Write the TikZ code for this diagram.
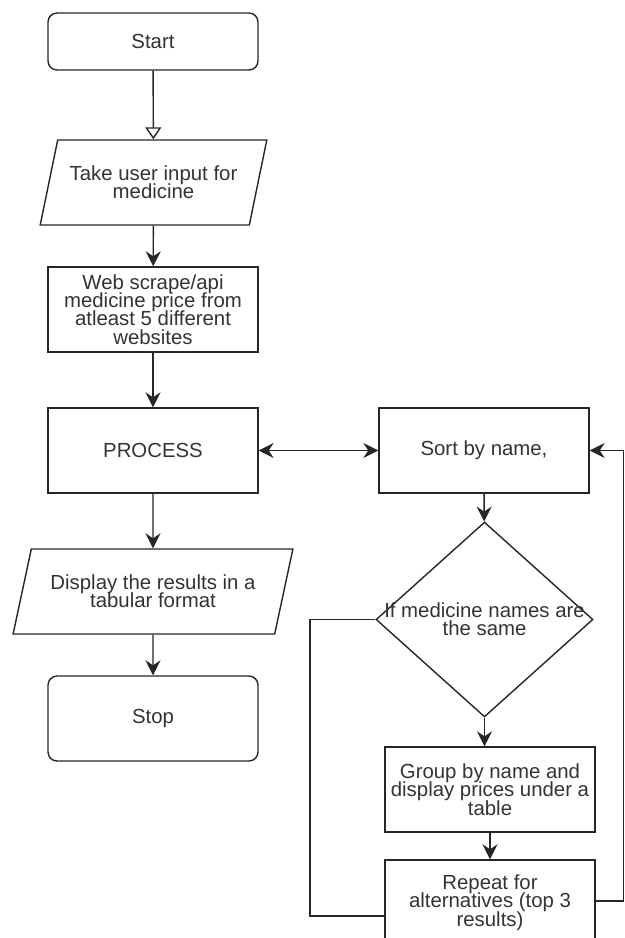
\documentclass[tikz,border=0pt]{standalone}
\usepackage{fontspec}
\setmainfont{Liberation Sans}
\usetikzlibrary{shapes.geometric,arrows.meta,positioning}

\begin{document}
\begin{tikzpicture}[
                x=0.02cm,y=-0.02cm,
                every node/.style={font={\fontsize{11.6}{10.4}\selectfont\lineskiplimit=-100pt},text=black!80},
                box/.style={draw=black!85,thick,minimum width=4.2cm,minimum height=1.7cm,align=center,inner sep=1pt},
                term/.style={box,rounded corners=0.18cm},
                io/.style={draw=black!85,thick,trapezium,trapezium left angle=67,trapezium right angle=113,trapezium stretches=true,minimum height=1.7cm,align=center,inner sep=1pt},
                decision/.style={draw=black!85,thick,diamond,minimum width=4.34cm,minimum height=3.9cm,inner sep=0pt},
                >={Stealth[length=3mm,width=3mm,inset=1mm]}
            ]
                \useasboundingbox (0,0) rectangle (625,938);
                \clip (0,0) rectangle (625,938);
                % main column
                \node[term,minimum height=1.14cm] (start) at (153,41.5) {Start};
                \node[io,minimum width=4.54cm] (input) at (153.5,182.5) {Take user input for\\medicine};
                \node[box] (scrape) at (153,309.5) {Web scrape/api\\medicine price from\\atleast 5 different\\websites};
                \node[box] (process) at (153,450.5) {PROCESS};
                \node[io,minimum width=5.6cm] (display) at (153,591.5) {Display the results in a\\tabular format};
                \node[term] (stop) at (153,718.5) {Stop};
                % sorting column
                \node[box] (sort) at (484,450.5) {Sort by name,};
                \node[decision] (same) at (484.5,619.5) {};
                \node[align=center] (sametxt) at (same) {If medicine names are\\the same};
                \node[box] (group) at (490,789.5) {Group by name and\\display prices under a\\table};
                \node[box] (repeat) at (490,902.5) {Repeat for\\alternatives (top 3\\results)};
                \coordinate (backl) at (310,916);
                \coordinate (backr) at (623.5,901);
                \draw[-{Triangle[open,length=2.4mm,width=3.2mm]},thick,black!85] (start) -- (input);
                \draw[->,thick,black!85] (input) -- (scrape);
                \draw[->,thick,black!85] (scrape) -- (process);
                \draw[->,thick,black!85] (process) -- (display);
                \draw[->,thick,black!85] (display) -- (stop);
                \draw[<->,thick,black!85] (process) -- (sort);
                \draw[->,thick,black!85] (sort) -- (same);
                \draw[->,thick,black!85] (same.south) -- (same.south |- group.north);
                \draw[->,thick,black!85] (group) -- (repeat);
                \draw[thick,black!85] (same.west) -| (backl) -- (backl -| repeat.west);
                \draw[->,thick,black!85] (repeat.east |- backr) -- (backr) |- (sort.east);
            \end{tikzpicture}
\end{document}
